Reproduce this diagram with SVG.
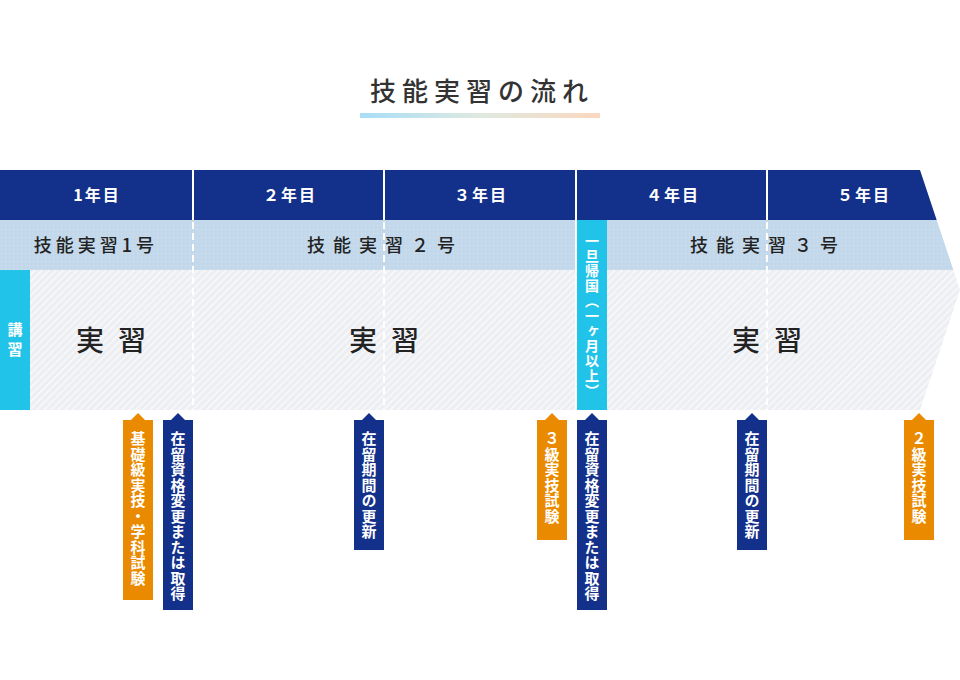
<svg xmlns="http://www.w3.org/2000/svg" width="960" height="680" viewBox="0 0 960 680">
<defs>
<linearGradient id="ul" x1="0" x2="1" y1="0" y2="0">
<stop offset="0" stop-color="#a8def6"/>
<stop offset="0.5" stop-color="#dfe9e0"/>
<stop offset="1" stop-color="#fbd7bf"/>
</linearGradient>
<pattern id="dots" width="4" height="4" patternUnits="userSpaceOnUse">
<rect width="4" height="4" fill="#c3d8ea"/>
<rect x="1" y="1" width="1" height="1" fill="#d3e2ef"/>
</pattern>
<pattern id="stripes" width="5" height="5" patternUnits="userSpaceOnUse" patternTransform="rotate(-45)">
<rect width="5" height="5" fill="#eceef2"/>
<rect width="5" height="1.6" fill="#f8f9fb"/>
</pattern>
<clipPath id="arrow">
<polygon points="0,170 920,170 960,290 920,410 0,410"/>
</clipPath>
</defs>
<style>
.t{font-family:"Noto Sans CJK JP","Noto Sans",sans-serif;}
.hd{font-size:16px;font-weight:bold;fill:#fff;letter-spacing:2px;text-anchor:middle;}
.rw{font-size:18px;font-weight:500;fill:#222;text-anchor:middle;}
.big{font-size:28px;font-weight:500;fill:#222;letter-spacing:14px;text-anchor:middle;}
.vt{font-size:15px;font-weight:bold;fill:#fff;writing-mode:vertical-rl;letter-spacing:0.5px;}
.navy{fill:#13308a;}
.orange{fill:#e98a00;}
.cyan{fill:#22c3e9;}
.dash{stroke:#fff;stroke-width:2;stroke-dasharray:7 4;fill:none;}
.solid{stroke:#fff;stroke-width:2;fill:none;}
</style>

<g id="title">
<text class="t" x="482" y="101" font-size="26" font-weight="500" fill="#333" letter-spacing="6" text-anchor="middle">技能実習の流れ</text>
<rect x="360" y="113" width="240" height="5" fill="url(#ul)"/>
</g>

<g id="timeline" clip-path="url(#arrow)">
<rect x="0" y="170" width="960" height="50" class="navy"/>
<rect x="0" y="220" width="960" height="50" fill="url(#dots)"/>
<rect x="0" y="270" width="960" height="140" fill="url(#stripes)"/>
</g>

<g id="connectors">
<line x1="193" y1="170" x2="193" y2="220" class="solid"/>
<line x1="384" y1="170" x2="384" y2="220" class="solid"/>
<line x1="576" y1="170" x2="576" y2="410" class="solid"/>
<line x1="767" y1="170" x2="767" y2="220" class="solid"/>
<line x1="193" y1="222" x2="193" y2="410" class="dash"/>
<line x1="384" y1="222" x2="384" y2="410" class="dash"/>
<line x1="767" y1="222" x2="767" y2="410" class="dash"/>
</g>

<g id="headers" class="t">
<text class="hd" x="97" y="201">1年目</text>
<text class="hd" x="290" y="201">２年目</text>
<text class="hd" x="481" y="201">３年目</text>
<text class="hd" x="673" y="201">４年目</text>
<text class="hd" x="864" y="201">５年目</text>
</g>

<g id="row-types" class="t">
<text class="rw" x="96" y="252" letter-spacing="4">技能実習1号</text>
<text class="rw" x="385" y="252" letter-spacing="8">技能実習２号</text>
<text class="rw" x="768" y="252" letter-spacing="8">技能実習３号</text>
</g>

<g id="practice" class="t">
<text class="big" x="118" y="351">実習</text>
<text class="big" x="391" y="351">実習</text>
<text class="big" x="774" y="351">実習</text>
</g>

<g id="kosyu">
<rect x="0" y="270" width="30" height="140" class="cyan"/>
<text class="t vt" x="15" y="322" style="letter-spacing:5px">講習</text>
</g>

<g id="ichiji">
<rect x="577" y="220" width="30" height="190" class="cyan"/>
<text class="t vt" x="592" y="234" style="font-size:14px;letter-spacing:1px">一旦帰国（一ヶ月以上）</text>
</g>

<g id="flag-kiso">
<polygon points="131,420 138,413 145,420" class="orange"/>
<rect x="123" y="420" width="30" height="180" class="orange"/>
<text class="t vt" x="138" y="431">基礎級実技・学科試験</text>
</g>

<g id="flag-shikaku1">
<polygon points="171,420 178,413 185,420" class="navy"/>
<rect x="163" y="420" width="30" height="190" class="navy"/>
<text class="t vt" x="178" y="431">在留資格変更または取得</text>
</g>

<g id="flag-koshin1">
<polygon points="362,420 369,413 376,420" class="navy"/>
<rect x="354" y="420" width="30" height="130" class="navy"/>
<text class="t vt" x="369" y="431">在留期間の更新</text>
</g>

<g id="flag-3kyu">
<polygon points="545,420 552,413 559,420" class="orange"/>
<rect x="537" y="420" width="30" height="120" class="orange"/>
<text class="t vt" x="552" y="431">３級実技試験</text>
</g>

<g id="flag-shikaku2">
<polygon points="585,420 592,413 599,420" class="navy"/>
<rect x="577" y="420" width="30" height="190" class="navy"/>
<text class="t vt" x="592" y="431">在留資格変更または取得</text>
</g>

<g id="flag-koshin2">
<polygon points="745,420 752,413 759,420" class="navy"/>
<rect x="737" y="420" width="30" height="130" class="navy"/>
<text class="t vt" x="752" y="431">在留期間の更新</text>
</g>

<g id="flag-2kyu">
<polygon points="912,420 919,413 926,420" class="orange"/>
<rect x="904" y="420" width="30" height="120" class="orange"/>
<text class="t vt" x="919" y="431">２級実技試験</text>
</g>
</svg>
